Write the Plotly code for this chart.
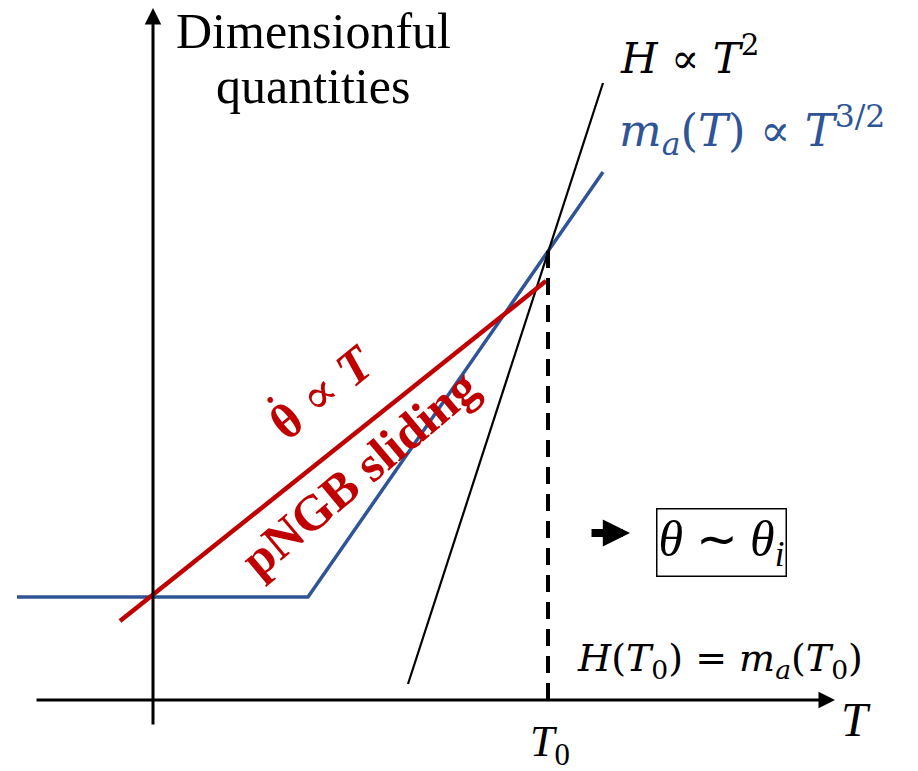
import plotly.graph_objects as go

# Schematic curves (T on the horizontal axis, dimensionful quantity vertical)
blue_T = [-1.36, 1.55, 4.50]          # m_a(T): flat, then rising as T^{3/2}
blue_Q = [1.03, 1.03, 5.28]
hub_T = [2.55, 4.50]                  # H ∝ T^2
hub_Q = [0.16, 6.17]
red_T = [-0.33, 3.93]                 # theta-dot ∝ T
red_Q = [0.79, 4.19]
T0 = 3.95                             # crossing temperature H(T0) = m_a(T0)
T0_top = 4.50

BLUE = "#2F5597"
RED = "#C00000"
SERIF = "Liberation Serif"
MATH = "DejaVu Serif"

fig = go.Figure()

fig.add_trace(go.Scatter(x=blue_T, y=blue_Q, mode="lines",
                         line=dict(color=BLUE, width=3.5), hoverinfo="skip"))
fig.add_trace(go.Scatter(x=hub_T, y=hub_Q, mode="lines",
                         line=dict(color="black", width=2.2), hoverinfo="skip"))
fig.add_trace(go.Scatter(x=red_T, y=red_Q, mode="lines",
                         line=dict(color=RED, width=4.5), hoverinfo="skip"))
fig.add_trace(go.Scatter(x=[T0, T0], y=[0, T0_top], mode="lines",
                         line=dict(color="black", width=4, dash="17px,10px"), hoverinfo="skip"))

annotations = []

# axes with arrowheads
annotations.append(dict(x=6.82, y=0, ax=-1.18, ay=0, xref="x", yref="y", axref="x", ayref="y",
                        showarrow=True, arrowhead=2, arrowsize=1.1, arrowwidth=3,
                        arrowcolor="black", text=""))
annotations.append(dict(x=0, y=6.92, ax=0, ay=-0.26, xref="x", yref="y", axref="x", ayref="y",
                        showarrow=True, arrowhead=2, arrowsize=1.1, arrowwidth=3,
                        arrowcolor="black", text=""))

# block arrow pointing at the box
annotations.append(dict(x=4.77, y=1.67, ax=4.37, ay=1.67, xref="x", yref="y", axref="x", ayref="y",
                        showarrow=True, arrowhead=2, arrowsize=0.68, arrowwidth=8,
                        arrowcolor="black", text=""))

def label(x, y, text, size, color="black", family=SERIF, xanchor="center",
          yanchor="middle", angle=0, **kw):
    d = dict(x=x, y=y, xref="x", yref="y", text=text, showarrow=False,
             xanchor=xanchor, yanchor=yanchor, textangle=angle,
             font=dict(family=family, size=size, color=color))
    d.update(kw)
    annotations.append(d)

label(1.60, 6.69, "Dimensionful", 50)
label(1.60, 6.14, "quantities", 50)
label(4.65, 6.45, "<i>H</i> ∝ <i>T</i><sup>2</sup>", 42, family=MATH, xanchor="left")
label(4.64, 5.70, "<i>m<sub>a</sub></i>(<i>T</i>)\u00a0∝\u00a0<i>T</i><sup>3/2</sup>", 45,
      color=BLUE, family=MATH, xanchor="left")
label(1.69, 3.08,
      "<b>θ</b>\u00a0<span style=\"font-family:'DejaVu Serif'\">∝</span>\u00a0<b><i>T</i></b>",
      50, color=RED, angle=-39)
# time-derivative dot over the theta
label(1.17, 3.00, "•", 24, color=RED, angle=-39)
label(2.06, 2.27, "<b>pNGB sliding</b>", 50, color=RED, angle=-40)
label(5.68, 1.58, "<i>θ</i>\u00a0∼\u00a0<i>θ<sub>i</sub></i>", 50, bordercolor="black",
      borderwidth=1.5, borderpad=1, bgcolor="white")
label(5.67, 0.40, "<i>H</i>(<i>T</i><sub>0</sub>) = <i>m<sub>a</sub></i>(<i>T</i><sub>0</sub>)",
      38, family=MATH)
label(7.03, -0.19, "<i>T</i>", 48)
label(3.97, -0.44, "<i>T</i><sub>0</sub>", 44)

fig.update_layout(
    width=918, height=771, autosize=False,
    margin=dict(l=0, r=0, t=0, b=0),
    paper_bgcolor="white", plot_bgcolor="white",
    showlegend=False,
    xaxis=dict(range=[-1.53, 7.65], visible=False, fixedrange=True),
    yaxis=dict(range=[-0.71, 7.00], visible=False, fixedrange=True),
    annotations=annotations,
)

fig.write_html("out.html")
